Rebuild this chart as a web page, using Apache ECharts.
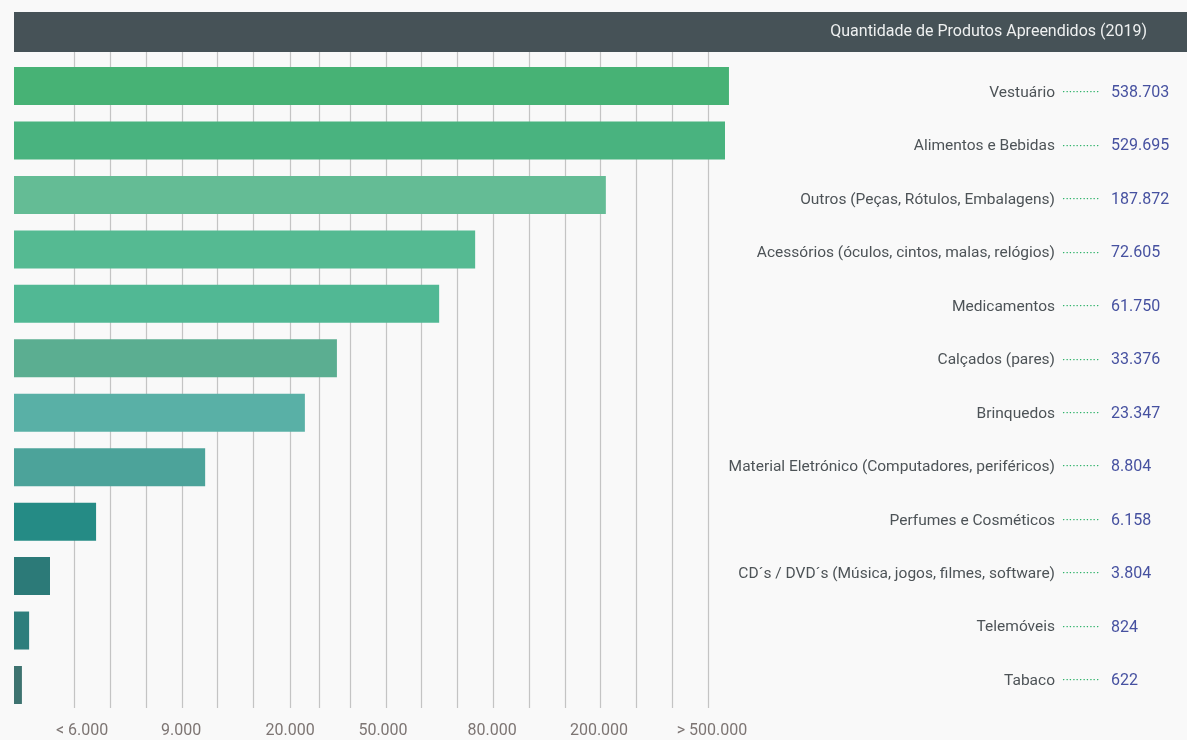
<!DOCTYPE html>
<html>
<head>
<meta charset="utf-8">
<script src="https://cdn.jsdelivr.net/npm/echarts@6.0.0/dist/echarts.min.js"></script>
<style>
  html, body { margin: 0; padding: 0; background: #f9f9f9; }
  #chart { width: 1187px; height: 740px; }
</style>
</head>
<body>
<div id="chart"></div>
<script>
// categories, top to bottom
const categories = [
  'Vestuário',
  'Alimentos e Bebidas',
  'Outros (Peças, Rótulos, Embalagens)',
  'Acessórios (óculos, cintos, malas, relógios)',
  'Medicamentos',
  'Calçados (pares)',
  'Brinquedos',
  'Material Eletrónico (Computadores, periféricos)',
  'Perfumes e Cosméticos',
  'CD´s / DVD´s (Música, jogos, filmes, software)',
  'Telemóveis',
  'Tabaco'
];
// seized quantities (shown as labels)
const quantities = [538703, 529695, 187872, 72605, 61750, 33376, 23347, 8804, 6158, 3804, 824, 622];
// bar length on the chart's banded scale (1 unit = one grid band)
const barLength = [19.86, 19.75, 16.44, 12.81, 11.81, 8.97, 8.08, 5.31, 2.28, 1.0, 0.42, 0.22];
// grid band edges and tick labels on that same scale
const bandEdges = [1.67, 2.67, 3.67, 4.67, 5.64, 6.64, 7.67, 8.47, 9.33, 10.33, 11.31, 12.31, 13.31, 14.31, 15.31, 16.28, 17.28, 18.28, 19.28];
const tickSteps = [1.89, 4.64, 7.67, 10.25, 13.28, 16.25, 19.39];
const tickLabels = ['< 6.000', '9.000', '20.000', '50.000', '80.000', '200.000', '> 500.000'];

const barColors = ['#47b275', '#49b37f', '#64bc95', '#55ba92', '#51b894', '#5bae91',
                   '#59b0a6', '#4ca39a', '#258b85', '#2c7a78', '#2e7e7c', '#3e7370'];

const FONT = "Roboto, 'Liberation Sans', sans-serif";

function fmt(n) {
  return String(n).replace(/\B(?=(\d{3})+(?!\d))/g, '.');
}

let chart = echarts.init(document.getElementById('chart'));
chart.setOption({
  animation: false,
  backgroundColor: '#f9f9f9',
  title: {
    text: 'Quantidade de Produtos Apreendidos (2019)',
    right: 40,
    top: 24,
    padding: 0,
    textStyle: { color: '#eef0f0', fontSize: 16, fontWeight: 'normal', fontFamily: FONT }
  },
  graphic: [
    {
      type: 'rect',
      z: -1,
      shape: { x: 14, y: 12, width: 1173, height: 40 },
      style: { fill: '#465257' }
    }
  ],
  grid: [
    // bars
    { left: 14, width: 720, top: 58.8, height: 653.4 },
    // grid lines + bottom labels
    { left: 14, width: 720, top: 52, height: 656 },
    // right side labels
    { left: 14, width: 720, top: 66.3, height: 641.4 }
  ],
  xAxis: [
    { gridIndex: 0, type: 'value', min: 0, max: 20, show: false },
    {
      gridIndex: 1, type: 'value', min: 0, max: 20,
      axisLine: { show: false },
      axisTick: { show: false, customValues: bandEdges },
      splitLine: { show: true, lineStyle: { color: '#c4c4c4', width: 1.2 } },
      axisLabel: {
        customValues: tickSteps,
        margin: 15,
        color: '#7d7573',
        fontSize: 16,
        fontFamily: FONT,
        formatter: function (v) {
          const i = tickSteps.indexOf(v);
          return i >= 0 ? tickLabels[i] : '';
        }
      }
    },
    { gridIndex: 2, type: 'value', min: 0, max: 20, show: false }
  ],
  yAxis: [
    { gridIndex: 0, type: 'category', inverse: true, data: categories, show: false },
    { gridIndex: 1, type: 'value', min: 0, max: 1, show: false },
    {
      gridIndex: 2, type: 'category', inverse: true, data: categories,
      position: 'right',
      axisLine: { show: false },
      axisTick: { show: false },
      axisLabel: {
        align: 'right',
        margin: 439,
        formatter: function (name, idx) {
          return '{n|' + name + '}{d|···········}{v|' + fmt(quantities[idx]) + '}';
        },
        rich: {
          n: { color: '#4d5357', fontSize: 15.5, fontFamily: FONT, align: 'left' },
          d: { color: '#2fb36a', fontSize: 13, fontFamily: FONT, width: 49, align: 'left', padding: [0, 0, 0, 7] },
          v: { color: '#4651a0', fontSize: 16, fontFamily: FONT, width: 62, align: 'left' }
        }
      }
    }
  ],
  series: [
    {
      type: 'bar',
      xAxisIndex: 0,
      yAxisIndex: 0,
      barWidth: 38,
      data: barLength.map(function (v, i) {
        return { value: v, itemStyle: { color: barColors[i] } };
      })
    }
  ]
});
</script>
</body>
</html>
